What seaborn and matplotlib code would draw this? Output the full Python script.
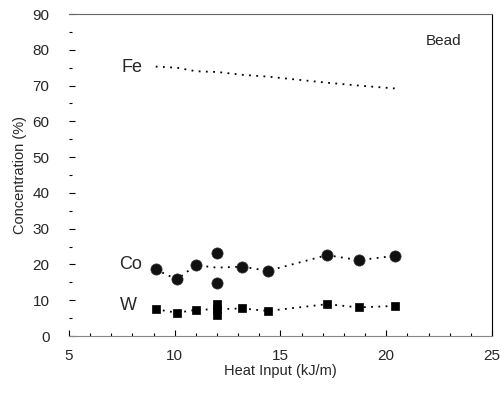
import matplotlib
matplotlib.use("Agg")
import matplotlib.pyplot as plt
import seaborn as sb
import pandas as pd
import numpy as np

# heat input (kJ/m) for each measurement
heat_co = [9.1, 10.1, 11.0, 12.0, 12.0, 13.2, 14.4, 17.2, 18.7, 20.4]
co_vals = [18.6, 15.8, 19.8, 23.3, 14.9, 19.4, 18.2, 22.6, 21.2, 22.4]

heat_w = [9.1, 10.1, 11.0, 12.0, 12.0, 12.0, 13.2, 14.4, 17.2, 18.7, 20.4]
w_vals = [7.5, 6.5, 7.3, 9.0, 7.5, 6.0, 7.7, 7.0, 8.9, 8.0, 8.4]

heat_fe = [9.1, 10.1, 11.0, 12.0, 13.2, 14.4, 17.2, 18.7, 20.4]
fe_vals = [75.3, 75.0, 74.0, 73.8, 73.0, 72.5, 70.8, 70.0, 69.2]

co = pd.DataFrame({"heat": heat_co, "conc": co_vals})
w = pd.DataFrame({"heat": heat_w, "conc": w_vals})
fe = pd.DataFrame({"heat": heat_fe, "conc": fe_vals})

sb.set_style("white")
plt.rcParams["font.family"] = ["Liberation Sans", "DejaVu Sans"]

fig, ax = plt.subplots(figsize=(5.02, 3.96), dpi=100)
fig.subplots_adjust(left=0.1375, right=0.980, bottom=0.1515, top=0.9646)

# dotted lines through the mean at each heat input
for d in [co, w, fe]:
    sb.lineplot(data=d, x="heat", y="conc", estimator="mean", errorbar=None,
                color="black", linestyle=(0, (1, 3)), linewidth=1.3, ax=ax)

sb.scatterplot(data=co, x="heat", y="conc", marker="o", s=65, color="#111111",
               edgecolor="#333333", linewidth=0.5, ax=ax, zorder=3)
sb.scatterplot(data=w, x="heat", y="conc", marker="s", s=40, color="black",
               edgecolor="black", linewidth=0.5, ax=ax, zorder=3)

ax.text(8.0, 75.0, "Fe", fontsize=13, ha="center", va="center")
ax.text(7.9, 20.0, "Co", fontsize=13, ha="center", va="center")
ax.text(7.8, 8.6, "W", fontsize=13, ha="center", va="center")
ax.text(22.7, 82.5, "Bead", fontsize=11, ha="center", va="center")

ax.set_xlim(5, 25)
ax.set_ylim(0, 90)
ax.set_xticks(np.arange(5, 26, 5))
ax.set_yticks(np.arange(0, 91, 10))
ax.set_xticks(np.arange(5, 26, 1), minor=True)
ax.set_yticks(np.arange(0, 91, 5), minor=True)
ax.tick_params(axis="both", which="both", direction="in", labelsize=11,
               color="black", width=0.8)
ax.tick_params(which="major", length=4)
ax.tick_params(axis="y", which="major", pad=14)
ax.tick_params(axis="x", which="major", pad=9)
ax.tick_params(which="minor", length=2)
ax.tick_params(top=False, right=False, bottom=True, left=True, which="both")

ax.set_xlabel("Heat Input (kJ/m)", fontsize=10.5, labelpad=1)
ax.set_ylabel("Concentration (%)", fontsize=10.5, labelpad=4)

ax.spines["left"].set_visible(False)
for s in ["top", "right", "bottom"]:
    ax.spines[s].set_color("black")
    ax.spines[s].set_linewidth(0.8)
ax.spines["bottom"].set_color("#888888")
ax.spines["top"].set_color("#666666")

fig.savefig("out.png", dpi=100)
